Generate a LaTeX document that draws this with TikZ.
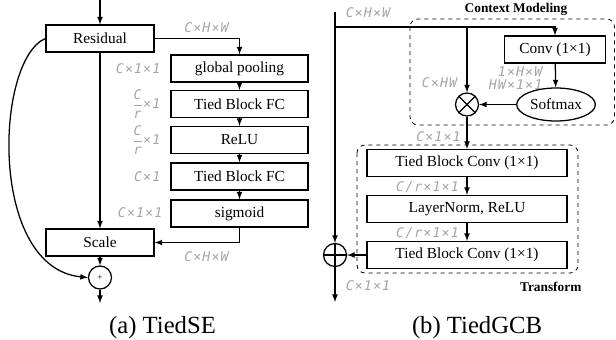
\documentclass[tikz,border=0pt]{standalone}
\usepackage{fontspec}
\setmainfont{Liberation Serif}
\newfontfamily\dimfont[LetterSpace=8]{DejaVu Sans Mono}
\usetikzlibrary{arrows,positioning,shapes.geometric}
\definecolor{cDim}{RGB}{165,165,165}
\newcommand{\dimfrac}[2]{$\displaystyle\frac{\mbox{\dimfont\itshape #1}}{\mbox{\dimfont\itshape #2}}$}

\begin{document}
\begin{tikzpicture}[x=0.75pt,y=-0.75pt,>=latex,line width=0.95pt,
  blk/.style={draw,minimum height=20.25pt,inner sep=0pt,font=\fontsize{11.5}{12}\selectfont},
  dim/.style={text=cDim,inner sep=0pt,font=\dimfont\itshape\fontsize{10}{10}\selectfont},
  grp/.style={draw,dashed,line width=0.6pt,rounded corners=6pt},
  tag/.style={inner sep=0pt,font=\bfseries\fontsize{10}{11}\selectfont},
  op/.style={circle,draw,minimum size=17.25pt,inner sep=0pt},
  subcap/.style={inner sep=0pt,anchor=base,font=\fontsize{18.5}{20}\selectfont}]
  \useasboundingbox (0,0) rectangle (616,339);

  % (a) squeeze-excitation branch
  \coordinate (inA) at (100,0);
  \coordinate (outA) at (100,303);
  \node[blk,minimum width=81pt] (res) at (100,38.5) {Residual};
  \node[blk,minimum width=102.75pt] (pool) at (239.5,68.5) {global pooling};
  \node[blk,minimum width=102.75pt] (fcA) at (239.5,104) {Tied Block FC};
  \node[blk,minimum width=102.75pt] (relu) at (239.5,140) {ReLU};
  \node[blk,minimum width=102.75pt] (fcB) at (239.5,176.5) {Tied Block FC};
  \node[blk,minimum width=102.75pt] (sig) at (239.5,213.5) {sigmoid};
  \node[blk,minimum width=81pt] (scale) at (100,242.5) {Scale};
  \node[op,font=\scriptsize] (sumA) at (100,277.5) {+};

  \draw[->] (inA) -- (res);
  \draw[->] (res) -- (scale);
  \draw[->] (res.east) -| (pool.north);
  \draw[->] (pool) -- (fcA);
  \draw[->] (fcA) -- (relu);
  \draw[->] (relu) -- (fcB);
  \draw[->] (fcB) -- (sig);
  \draw[->] (sig.south) |- (scale.east);
  \draw[->] (scale) -- (sumA);
  \draw[->] (sumA) -- (outA);
  \draw[->] (res.west) .. controls (-5,60) and (-12,268) .. (sumA.west);

  \node[dim] (dA1) at (206.5,27.5) {C×H×W};
  \node[dim,anchor=east] (dA2) at (161,69) {C×1×1};
  \node[dim,anchor=east] (dA3) at (161,104) {\dimfrac{C}{r}×1};
  \node[dim,anchor=east] (dA4) at (161,140) {\dimfrac{C}{r}×1};
  \node[dim,anchor=east] (dA5) at (161,177) {C×1};
  \node[dim,anchor=east] (dA6) at (163,213) {C×1×1};
  \node[dim] (dA7) at (206.5,257) {C×H×W};

  % (b) global context branch
  \coordinate (inB) at (335,12);
  \coordinate (split) at (335,27);
  \coordinate (outB) at (335,302);
  \node[blk,minimum width=75.75pt] (conv) at (555,49.5) {Conv (1×1)};
  \node[ellipse,draw,inner sep=0pt,minimum width=59pt,minimum height=24.75pt,
    font=\fontsize{11.5}{12}\selectfont] (soft) at (556,104.5) {Softmax};
  \node[op] (mul) at (467,104.5) {};
  \node[blk,minimum width=150pt] (tbA) at (467,163) {Tied Block Conv (1×1)};
  \node[blk,minimum width=150pt] (norm) at (467,209) {LayerNorm, ReLU};
  \node[blk,minimum width=150pt] (tbB) at (467,255) {Tied Block Conv (1×1)};
  \node[op] (sumB) at (335,255) {};
  \draw (mul.north west) -- (mul.south east) (mul.north east) -- (mul.south west);
  \draw (sumB.north) -- (sumB.south) (sumB.west) -- (sumB.east);

  \draw[->] (inB) -- (sumB);
  \draw[->] (split) -| (conv.north);
  \draw[->] (mul |- split) -- (mul);
  \draw[->] (conv) -- (soft);
  \draw[->] (soft) -- (mul);
  \draw[->] (mul) -- (tbA);
  \draw[->] (tbA) -- (norm);
  \draw[->] (norm) -- (tbB);
  \draw[->] (tbB) -- (sumB);
  \draw[->] (sumB) -- (outB);

  \draw[grp] (410,19) rectangle (614.5,125);
  \draw[grp] (357,145) rectangle (578,273);
  \node[tag] (ctx) at (516,9) {Context Modeling};
  \node[tag,anchor=east] (trf) at (582,287) {Transform};

  \node[dim] (dB1) at (368,13) {C×H×W};
  \node[dim] (dB2) at (439.5,83) {C×HW};
  \node[dim,anchor=east] (dB3) at (543,72) {1×H×W};
  \node[dim,anchor=east] (dB4) at (543,85) {HW×1×1};
  \node[dim] (dB5) at (438.5,137) {C×1×1};
  \node[dim] (dB6) at (427.5,187.5) {C/r×1×1};
  \node[dim] (dB7) at (427.5,233) {C/r×1×1};
  \node[dim] (dB8) at (368,286) {C×1×1};

  \node[subcap] (capA) at (162.5,333) {(a) TiedSE};
  \node[subcap] (capB) at (477,333) {(b) TiedGCB};
\end{tikzpicture}
\end{document}
